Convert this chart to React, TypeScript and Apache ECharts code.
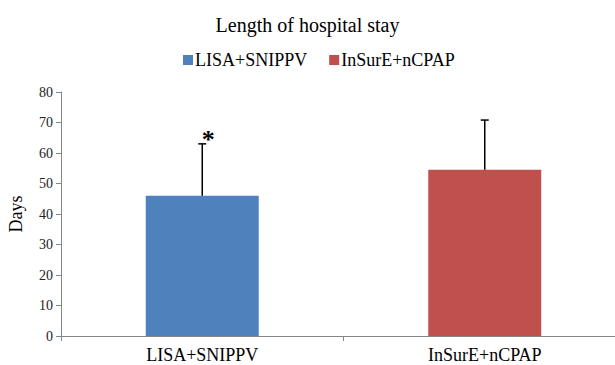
import React, { useEffect, useRef } from "react";
import * as echarts from "echarts";

const categories = ["LISA+SNIPPV", "InSurE+nCPAP"];
const seriesNames = ["LISA+SNIPPV", "InSurE+nCPAP"];
const means = [46, 54.5];
const errors = [17, 16.3];
const markers = ["*", ""];
const colors = ["#4F81BD", "#C0504D"];
const yTicks = { min: 0, max: 80, interval: 10 };

const FONT = "Liberation Serif";

export default function App() {
  const ref = useRef<HTMLDivElement>(null);
  useEffect(() => {
    if (!ref.current) return;
    const chart = echarts.init(ref.current, null, { renderer: "svg" });
    const barSeries = seriesNames.map((name, i) => ({
      name,
      type: "bar",
      barWidth: "40%",
      barGap: "-100%",
      itemStyle: { color: colors[i] },
      data: categories.map((_, j) => (j === i ? means[j] : "-")),
    }));
    const errData = categories.map((_, j) => [j, means[j], means[j] + errors[j], markers[j]]);
    chart.setOption({
      animation: false,
      textStyle: { fontFamily: FONT },
      title: {
        text: "Length of hospital stay",
        left: "center",
        top: 10,
        textStyle: { fontFamily: FONT, fontSize: 20, fontWeight: "normal", color: "#000" },
      },
      legend: {
        top: 46,
        left: 178,
        icon: "rect",
        itemWidth: 10,
        itemHeight: 10,
        itemGap: 22,
        textStyle: { fontFamily: FONT, fontSize: 18, color: "#000", padding: [0, 0, 0, -3] },
        data: seriesNames,
      },
      grid: { left: 61, top: 92, right: -11, bottom: 29, containLabel: false, outerBoundsMode: "none" },
      xAxis: {
        type: "category",
        data: categories,
        axisLine: { lineStyle: { color: "#868686", width: 1 } },
        axisTick: { show: true, length: 5, lineStyle: { color: "#868686" } },
        axisLabel: { fontFamily: FONT, fontSize: 18, color: "#000", margin: 10 },
      },
      yAxis: {
        type: "value",
        min: yTicks.min,
        max: yTicks.max,
        interval: yTicks.interval,
        name: "Days",
        nameLocation: "middle",
        nameGap: 36,
        nameRotate: 90,
        nameTextStyle: { fontFamily: FONT, fontSize: 18, color: "#000" },
        axisLine: { show: true, lineStyle: { color: "#868686", width: 1 } },
        axisTick: { show: true, length: 5, lineStyle: { color: "#868686" } },
        axisLabel: { fontFamily: FONT, fontSize: 14, color: "#222", margin: 8 },
        splitLine: { show: false },
      },
      series: [
        ...barSeries,
        {
          type: "custom",
          name: "err",
          z: 10,
          data: errData,
          encode: { x: 0, y: [1, 2] },
          renderItem: (params: any, api: any) => {
            const x = api.value(0);
            const lo = api.coord([x, api.value(1)]);
            const hi = api.coord([x, api.value(2)]);
            const mark = errData[params.dataIndex][3] as string;
            const children: any[] = [
              {
                type: "line",
                shape: { x1: lo[0], y1: lo[1], x2: hi[0], y2: hi[1] },
                style: { stroke: "#000", lineWidth: 1.5 },
              },
              {
                type: "line",
                shape: { x1: hi[0] - 4, y1: hi[1], x2: hi[0] + 4, y2: hi[1] },
                style: { stroke: "#000", lineWidth: 1.5 },
              },
            ];
            if (mark) {
              children.push({
                type: "text",
                style: {
                  text: mark,
                  x: hi[0] + 6,
                  y: hi[1] - 4,
                  textAlign: "center",
                  textVerticalAlign: "middle",
                  fontFamily: FONT,
                  fontSize: 26,
                  fontWeight: "bold",
                  fill: "#000",
                },
              });
            }
            return { type: "group", children };
          },
        },
      ],
    });
    return () => chart.dispose();
  }, []);
  return <div ref={ref} style={{ width: 615, height: 365, position: "absolute", left: 0, top: 0 }} />;
}
